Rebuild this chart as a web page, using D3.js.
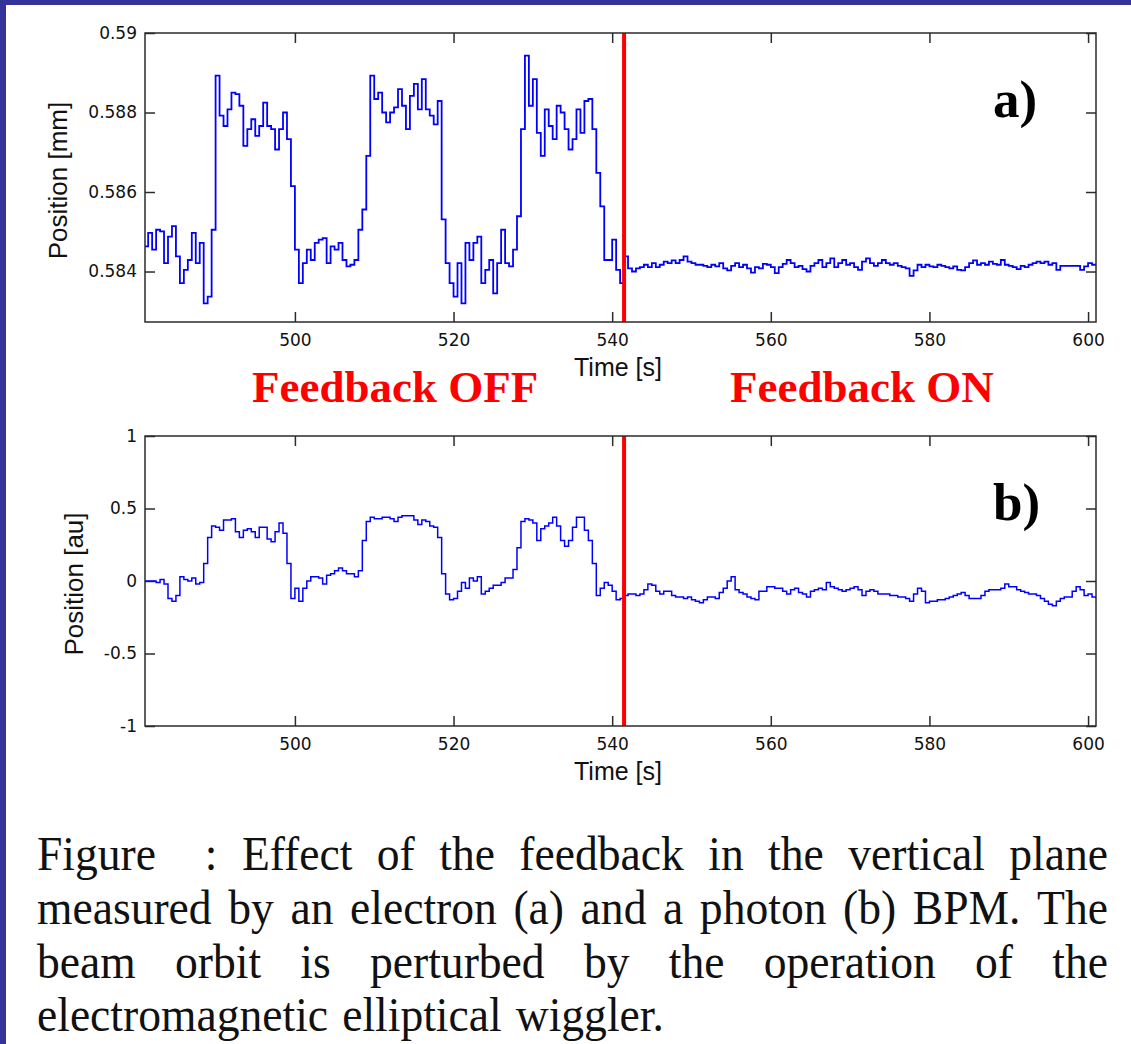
<!DOCTYPE html>
<html>
<head>
<meta charset="utf-8">
<script src="https://cdn.jsdelivr.net/npm/d3@7"></script>
<style>
  body { margin: 0; background: #fff; }
  svg { display: block; }
</style>
</head>
<body>
<svg id="figure" width="1131" height="1044"></svg>
<script>
'use strict';

// sampling of both BPM records (s)
const sampleStart = 481;
const sampleStep = 0.5;
const timeTicks = [500, 520, 540, 560, 580, 600];
const feedbackOnTime = 541.5;

// a) electron BPM, vertical position [mm]
const electronTicks = [0.584, 0.586, 0.588, 0.59];
const electronTickLabels = ['0.584', '0.586', '0.588', '0.59'];
const electronPos = [
  0.58463, 0.58497, 0.58455, 0.58505, 0.58501, 0.58421, 0.58488, 0.58514, 0.58438, 0.58371,
  0.58404, 0.58429, 0.58497, 0.58421, 0.58472, 0.58320, 0.58337, 0.58505, 0.58893, 0.58792,
  0.58766, 0.58808, 0.58850, 0.58846, 0.58817, 0.58716, 0.58758, 0.58783, 0.58741, 0.58766,
  0.58825, 0.58766, 0.58758, 0.58707, 0.58758, 0.58800, 0.58733, 0.58615, 0.58455, 0.58371,
  0.58421, 0.58455, 0.58429, 0.58472, 0.58480, 0.58484, 0.58421, 0.58463, 0.58455, 0.58472,
  0.58429, 0.58413, 0.58417, 0.58429, 0.58505, 0.58556, 0.58691, 0.58893, 0.58834, 0.58850,
  0.58800, 0.58775, 0.58800, 0.58813, 0.58859, 0.58817, 0.58758, 0.58842, 0.58872, 0.58808,
  0.58884, 0.58808, 0.58792, 0.58770, 0.58829, 0.58531, 0.58421, 0.58371, 0.58337, 0.58421,
  0.58320, 0.58472, 0.58429, 0.58472, 0.58488, 0.58371, 0.58404, 0.58429, 0.58345, 0.58421,
  0.58505, 0.58421, 0.58413, 0.58455, 0.58539, 0.58758, 0.58943, 0.58817, 0.58884, 0.58749,
  0.58691, 0.58808, 0.58766, 0.58733, 0.58817, 0.58800, 0.58758, 0.58707, 0.58733, 0.58808,
  0.58749, 0.58829, 0.58834, 0.58758, 0.58648, 0.58564, 0.58429, 0.58429, 0.58480, 0.58404,
  0.58371, 0.58438, 0.58408, 0.58400, 0.58408, 0.58411, 0.58417, 0.58411, 0.58421, 0.58411,
  0.58417, 0.58425, 0.58421, 0.58428, 0.58421, 0.58429, 0.58438, 0.58425, 0.58421, 0.58417,
  0.58417, 0.58414, 0.58411, 0.58417, 0.58413, 0.58421, 0.58408, 0.58403, 0.58414, 0.58421,
  0.58411, 0.58417, 0.58408, 0.58397, 0.58411, 0.58408, 0.58419, 0.58417, 0.58411, 0.58396,
  0.58411, 0.58419, 0.58429, 0.58421, 0.58411, 0.58414, 0.58406, 0.58400, 0.58414, 0.58421,
  0.58429, 0.58411, 0.58421, 0.58433, 0.58411, 0.58421, 0.58429, 0.58417, 0.58421, 0.58411,
  0.58404, 0.58425, 0.58433, 0.58421, 0.58414, 0.58421, 0.58429, 0.58421, 0.58417, 0.58421,
  0.58414, 0.58411, 0.58408, 0.58389, 0.58403, 0.58417, 0.58411, 0.58417, 0.58413, 0.58411,
  0.58417, 0.58414, 0.58411, 0.58408, 0.58413, 0.58404, 0.58403, 0.58411, 0.58421, 0.58428,
  0.58417, 0.58421, 0.58417, 0.58425, 0.58419, 0.58417, 0.58429, 0.58417, 0.58414, 0.58411,
  0.58406, 0.58414, 0.58411, 0.58417, 0.58421, 0.58425, 0.58421, 0.58425, 0.58417, 0.58421,
  0.58404, 0.58414, 0.58414, 0.58414, 0.58414, 0.58414, 0.58404, 0.58413, 0.58421, 0.58417,
  0.58419
];

// b) photon BPM, vertical position [au]
const photonTicks = [-1, -0.5, 0, 0.5, 1];
const photonTickLabels = ['-1', '-0.5', '0', '0.5', '1'];
const photonPos = [
  0.00, 0.00, 0.00, -0.01, 0.01, -0.02, -0.12, -0.14, -0.10, 0.03,
  0.01, 0.00, 0.02, -0.02, -0.01, 0.12, 0.30, 0.38, 0.37, 0.35,
  0.42, 0.42, 0.43, 0.34, 0.30, 0.35, 0.36, 0.34, 0.30, 0.37,
  0.37, 0.29, 0.27, 0.34, 0.40, 0.33, 0.12, -0.12, -0.05, -0.14,
  -0.05, 0.00, 0.03, 0.03, 0.02, -0.02, 0.04, 0.05, 0.07, 0.09,
  0.07, 0.05, 0.05, 0.03, 0.07, 0.28, 0.41, 0.44, 0.43, 0.43,
  0.44, 0.44, 0.43, 0.41, 0.44, 0.45, 0.45, 0.45, 0.42, 0.39,
  0.42, 0.41, 0.38, 0.37, 0.30, 0.05, -0.09, -0.13, -0.12, -0.07,
  -0.01, -0.05, 0.02, 0.00, 0.03, -0.09, -0.07, -0.05, -0.03, -0.03,
  -0.01, 0.02, 0.02, 0.08, 0.23, 0.41, 0.43, 0.42, 0.40, 0.28,
  0.36, 0.38, 0.40, 0.44, 0.38, 0.28, 0.24, 0.28, 0.37, 0.44,
  0.44, 0.35, 0.28, 0.12, -0.10, -0.05, -0.01, -0.03, -0.07, -0.13,
  -0.12, -0.10, -0.09, -0.09, -0.10, -0.09, -0.06, -0.02, -0.03, -0.07,
  -0.09, -0.07, -0.07, -0.10, -0.11, -0.11, -0.12, -0.11, -0.13, -0.14,
  -0.15, -0.13, -0.11, -0.11, -0.12, -0.08, -0.05, 0.00, 0.03, -0.06,
  -0.08, -0.09, -0.11, -0.12, -0.13, -0.07, -0.07, -0.04, -0.04, -0.05,
  -0.05, -0.07, -0.09, -0.06, -0.05, -0.08, -0.09, -0.11, -0.07, -0.06,
  -0.05, -0.06, -0.01, -0.04, -0.05, -0.06, -0.07, -0.06, -0.05, -0.04,
  -0.06, -0.10, -0.07, -0.06, -0.07, -0.09, -0.09, -0.09, -0.10, -0.10,
  -0.11, -0.11, -0.12, -0.14, -0.09, -0.05, -0.07, -0.15, -0.14, -0.14,
  -0.13, -0.13, -0.12, -0.11, -0.10, -0.09, -0.08, -0.10, -0.12, -0.12,
  -0.12, -0.10, -0.07, -0.06, -0.06, -0.06, -0.05, -0.02, -0.04, -0.04,
  -0.06, -0.07, -0.08, -0.09, -0.09, -0.10, -0.12, -0.14, -0.16, -0.17,
  -0.14, -0.12, -0.11, -0.11, -0.07, -0.04, -0.06, -0.10, -0.09, -0.11,
  -0.12
];

const captionLines = [
  'Figure  : Effect of the feedback in the vertical plane',
  'measured by an electron (a) and a photon (b) BPM. The',
  'beam orbit is perturbed by the operation of the',
  'electromagnetic elliptical wiggler.'
];

const svg = d3.select('#figure');
const TICK_FONT = '"DejaVu Sans", sans-serif';
const LABEL_FONT = '"Liberation Sans", Arial, sans-serif';
const SERIF = '"Liberation Serif", "Times New Roman", serif';
const INK = '#2b2b2b';

svg.append('rect').attr('width', 1131).attr('height', 1044).attr('fill', '#fff');
// slide frame
svg.append('rect').attr('width', 1131).attr('height', 5).attr('fill', '#333399');
svg.append('rect').attr('width', 6).attr('height', 1044).attr('fill', '#333399');

const x = d3.scaleLinear()
  .domain([481.1, 601.0])
  .range([145, 1096]);

drawPanel({
  id: 'a', top: 33, bottom: 322,
  domain: [0.58273, 0.59],
  ticks: electronTicks, tickLabels: electronTickLabels,
  values: electronPos, width: 1.8,
  yLabel: 'Position [mm]', yLabelX: 67,
  tag: 'a)', tagY: 117,
  showFeedback: true
});

drawPanel({
  id: 'b', top: 436, bottom: 726,
  domain: [-1, 1],
  ticks: photonTicks, tickLabels: photonTickLabels,
  values: photonPos, width: 1.5,
  yLabel: 'Position [au]', yLabelX: 83,
  tag: 'b)', tagY: 520,
  showFeedback: false
});

drawCaption();


function drawPanel(p) {
  const [x0, x1] = x.range();
  const y = d3.scaleLinear()
    .domain(p.domain)
    .range([p.bottom, p.top]);

  const g = svg.append('g').attr('class', 'panel-' + p.id);

  g.append('clipPath')
    .attr('id', 'clip-' + p.id)
    .append('rect')
    .attr('x', x0).attr('y', p.top)
    .attr('width', x1 - x0).attr('height', p.bottom - p.top);

  const fmt = d => p.tickLabels[p.ticks.indexOf(d)];

  const bottomAxis = g.append('g')
    .attr('transform', `translate(0,${p.bottom})`)
    .call(d3.axisBottom(x).tickValues(timeTicks).tickFormat(d3.format('d'))
      .tickSizeInner(-10).tickSizeOuter(0).tickPadding(12));
  const leftAxis = g.append('g')
    .attr('transform', `translate(${x0},0)`)
    .call(d3.axisLeft(y).tickValues(p.ticks).tickFormat(fmt)
      .tickSizeInner(-10).tickSizeOuter(0).tickPadding(8));
  const topAxis = g.append('g')
    .attr('transform', `translate(0,${p.top})`)
    .call(d3.axisTop(x).tickValues(timeTicks).tickFormat('')
      .tickSizeInner(-10).tickSizeOuter(0));
  const rightAxis = g.append('g')
    .attr('transform', `translate(${x1},0)`)
    .call(d3.axisRight(y).tickValues(p.ticks).tickFormat('')
      .tickSizeInner(-10).tickSizeOuter(0));

  [bottomAxis, leftAxis, topAxis, rightAxis].forEach(a => {
    a.select('.domain').remove();
    a.selectAll('.tick line').attr('stroke', INK).attr('stroke-width', 1.5);
    a.selectAll('.tick text')
      .attr('fill', '#111')
      .style('font-family', TICK_FONT)
      .style('font-size', '17px');
  });

  const line = d3.line()
    .x((d, i) => x(sampleStart + i * sampleStep))
    .y(d => y(d))
    .curve(d3.curveStepAfter);

  g.append('path')
    .datum(p.values)
    .attr('clip-path', `url(#clip-${p.id})`)
    .attr('fill', 'none')
    .attr('stroke', '#0000ff')
    .attr('stroke-width', p.width)
    .attr('d', line);

  // moment the feedback is switched on
  g.append('line')
    .attr('x1', x(feedbackOnTime)).attr('x2', x(feedbackOnTime))
    .attr('y1', p.top).attr('y2', p.bottom)
    .attr('stroke', '#ff0000')
    .attr('stroke-width', 4);

  g.append('rect')
    .attr('x', x0).attr('y', p.top)
    .attr('width', x1 - x0).attr('height', p.bottom - p.top)
    .attr('fill', 'none')
    .attr('stroke', INK)
    .attr('stroke-width', 1.5);

  g.append('text')
    .attr('x', 618)
    .attr('y', p.bottom + 54)
    .attr('text-anchor', 'middle')
    .style('font-family', LABEL_FONT)
    .style('font-size', '25px')
    .attr('fill', '#111')
    .text('Time [s]');

  g.append('text')
    .attr('transform', `translate(${p.yLabelX},${(p.top + p.bottom) / 2 + 3}) rotate(-90)`)
    .attr('text-anchor', 'middle')
    .style('font-family', LABEL_FONT)
    .style('font-size', '26px')
    .attr('fill', '#111')
    .text(p.yLabel);

  g.append('text')
    .attr('x', 993)
    .attr('y', p.tagY)
    .style('font-family', SERIF)
    .style('font-weight', 'bold')
    .style('font-size', '53px')
    .attr('fill', '#000')
    .text(p.tag);

  if (p.showFeedback) {
    [['Feedback OFF', 252], ['Feedback ON', 730]].forEach(([t, xPos]) => {
      g.append('text')
        .attr('x', xPos)
        .attr('y', p.bottom + 80)
        .style('font-family', SERIF)
        .style('font-weight', 'bold')
        .style('font-size', '45px')
        .attr('fill', '#ff0000')
        .text(t);
    });
  }
}

/*
* Justified caption below the plots
*/
function drawCaption() {
  const left = 37, right = 1108, size = 47, sx = 0.97;
  const baselines = [870, 924, 978, 1031];

  captionLines.forEach((txt, li) => {
    const row = svg.append('g')
      .attr('transform', `translate(0,${baselines[li]}) scale(${sx},1.05)`);
    const words = txt.split(' ');
    const nodes = words.map(w => row.append('text')
      .attr('y', 0)
      .style('font-family', SERIF)
      .style('font-size', size + 'px')
      .attr('fill', '#111')
      .text(w));
    const widths = nodes.map(n => n.node().getComputedTextLength() * sx);
    const last = li === captionLines.length - 1;
    const gap = last ? size * 0.3 : (right - left - d3.sum(widths)) / (words.length - 1);
    let cx = left;
    nodes.forEach((n, i) => {
      n.attr('x', cx / sx);
      cx += widths[i] + gap;
    });
  });
}
</script>
</body>
</html>
